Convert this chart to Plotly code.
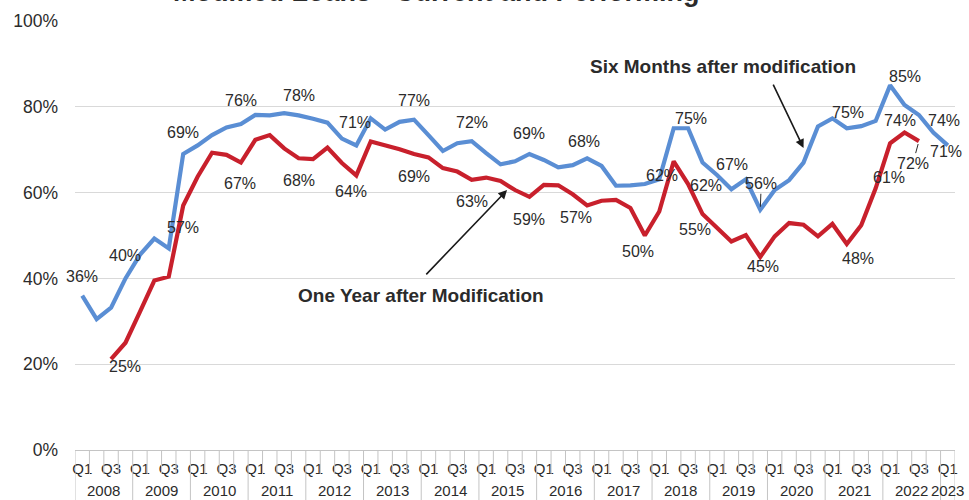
import plotly.graph_objects as go

# ---- data -------------------------------------------------------------
quarter_year = [y for y in range(2008, 2023) for _ in range(4)] + [2023]
quarter_name = ["Q1", "Q2", "Q3", "Q4"] * 15 + ["Q1"]
years = list(range(2008, 2024))

# share of modified loans current and performing, six months after modification
six_months = [
    36, 30.5, 33.2, 40, 45.5, 49.3, 47.0, 69,
    71.0, 73.4, 75.2, 76, 78.1, 78.0, 78.5, 78,
    77.2, 76.3, 72.6, 71, 77.3, 74.7, 76.5, 77,
    73.4, 69.7, 71.5, 72, 69.2, 66.6, 67.3, 69,
    67.6, 65.9, 66.4, 68, 66.2, 61.6, 61.7, 62,
    63.1, 75.0, 75, 67, 64.1, 60.8, 63.1, 56,
    60.6, 62.9, 67.0, 75.4, 77.3, 75, 75.5, 76.7,
    85, 80.4, 78.1, 74, 71,
]

# same, one year after modification
one_year = [
    None, None, 21.2, 25, 32.2, 39.5, 40.4, 57,
    63.7, 69.3, 68.8, 67, 72.3, 73.4, 70.3, 68,
    67.8, 70.5, 66.9, 64, 71.9, 71.1, 70.1, 69,
    68.2, 65.7, 64.9, 63, 63.5, 62.7, 60.6, 59,
    61.8, 61.7, 59.6, 57, 58.1, 58.3, 56.4, 50,
    55.6, 67.3, 62, 55, 51.7, 48.6, 50.1, 45,
    49.8, 52.9, 52.5, 49.8, 52.7, 48, 52.4, 61,
    71.5, 74, 72, None, None,
]

# labelled points: index, pixel offset of the label (dx, dy), leader line
six_label_idx = [0, 3, 7, 11, 15, 19, 23, 27, 31, 35, 39, 42, 43, 47, 53, 56, 59, 60]
six_label_off = [(0, -19), (0, -23), (0, -21), (0, -23), (0, -20), (-1, -23), (0, -19),
                 (0, -19), (0, -20), (-3, -17), (17, -9), (3, -10), (29, 2), (1, -26),
                 (1, -16), (15, -9), (11, -12), (-2, 6)]
six_label_leader = [47]

one_label_idx = [3, 7, 11, 15, 19, 23, 27, 31, 35, 39, 42, 43, 47, 53, 55, 57, 58]
one_label_off = [(0, 24), (0, 22), (-1, 21), (0, 22), (-5, 16), (0, 23), (0, 22), (0, 23),
                 (-11, 12), (-7, 16), (18, 1), (-8, 15), (3, 10), (11, 14), (13, -11),
                 (-5, -12), (-6, 22)]
one_label_leader = [58]

y_ticks = [0, 20, 40, 60, 80, 100]

# ---- style ------------------------------------------------------------
FONT = "Liberation Sans, Arial, sans-serif"
BLUE = "#5A8ED4"
RED = "#C8202C"
TEXT = "#2B2B2B"
GRID = "#D9D9D9"
AXIS = "#C4C4C4"

x = list(range(len(quarter_name)))

fig = go.Figure()
fig.add_trace(go.Scatter(x=x, y=six_months, mode="lines", name="Six Months after modification",
                         line=dict(color=BLUE, width=4.2), connectgaps=False, hoverinfo="skip"))
fig.add_trace(go.Scatter(x=x, y=one_year, mode="lines", name="One Year after Modification",
                         line=dict(color=RED, width=4.2), connectgaps=False, hoverinfo="skip"))

annotations = []


def add_labels(values, idx_list, offsets, leaders):
    for i, (dx, dy) in zip(idx_list, offsets):
        v = values[i]
        a = dict(x=x[i], y=v, xref="x", yref="y", text=f"{v:.0f}%",
                 font=dict(family=FONT, size=16, color=TEXT))
        if i in leaders:
            a.update(showarrow=True, ax=dx, ay=dy, arrowhead=0, arrowwidth=1,
                     arrowcolor=TEXT, standoff=3)
        else:
            a.update(showarrow=False, xshift=dx, yshift=-dy)
        annotations.append(a)


add_labels(six_months, six_label_idx, six_label_off, six_label_leader)
add_labels(one_year, one_label_idx, one_label_off, one_label_leader)

# series call-outs with arrows
annotations.append(dict(x=44.4, y=89.3, xref="x", yref="y", text="<b>Six Months after modification</b>",
                        showarrow=False, font=dict(family=FONT, size=19, color=TEXT)))
annotations.append(dict(x=50.0, y=70.4, ax=47.85, ay=85.5, xref="x", yref="y", axref="x", ayref="y",
                        text="", showarrow=True, arrowhead=2, arrowsize=1.1, arrowwidth=1.6,
                        arrowcolor="#1A1A1A"))
annotations.append(dict(x=23.46, y=35.9, xref="x", yref="y", text="<b>One Year after Modification</b>",
                        showarrow=False, font=dict(family=FONT, size=19, color=TEXT)))
annotations.append(dict(x=29.45, y=60.6, ax=23.75, ay=40.6, xref="x", yref="y", axref="x", ayref="y",
                        text="", showarrow=True, arrowhead=2, arrowsize=1.1, arrowwidth=1.6,
                        arrowcolor="#1A1A1A"))

# title, running off the top edge of the page
annotations.append(dict(x=0.411, y=1, xref="paper", yref="paper", yanchor="bottom", yshift=12,
                        text="<b>Modified Loans - Current and Performing</b>", showarrow=False,
                        font=dict(family=FONT, size=27, color=TEXT)))

# year labels under the quarter labels
for yr in years:
    pos = [x[i] for i in range(len(x)) if quarter_year[i] == yr]
    annotations.append(dict(x=sum(pos) / len(pos), y=0, xref="x", yref="paper",
                            yanchor="middle", yshift=-40,
                            text=str(yr), showarrow=False,
                            font=dict(family=FONT, size=15, color=TEXT)))

# category boundary lines: short between quarters, long between years
shapes = []
for b in range(len(x) + 1):
    long_line = b == 0 or b == len(x) or quarter_name[b] == "Q1"
    shapes.append(dict(type="line", xref="x", yref="paper", ysizemode="pixel", yanchor=0,
                       x0=b - 0.5, x1=b - 0.5, y0=0, y1=-50 if long_line else -24,
                       line=dict(color=AXIS, width=1)))

q_tick_vals = [x[i] for i in range(len(x)) if quarter_name[i] in ("Q1", "Q3")]
q_tick_text = [quarter_name[i] for i in q_tick_vals]

fig.update_layout(
    width=969, height=500,
    margin=dict(l=75, r=11, t=21, b=50),
    paper_bgcolor="white", plot_bgcolor="white",
    showlegend=False,
    font=dict(family=FONT, color=TEXT),
    annotations=annotations,
    shapes=shapes,
    xaxis=dict(range=[-0.5, len(x) - 0.5], tickmode="array", tickvals=q_tick_vals,
               ticktext=q_tick_text, ticks="", showgrid=False, zeroline=False,
               showline=True, linecolor=AXIS, linewidth=1, ticklabelstandoff=5,
               tickfont=dict(family=FONT, size=15, color=TEXT), fixedrange=True),
    yaxis=dict(range=[0, 100], tickmode="array", tickvals=y_ticks,
               ticktext=[f"{v}%" for v in y_ticks],
               showgrid=True, gridcolor=GRID, gridwidth=1, zeroline=False, ticks="",
               ticklabelstandoff=16, tickfont=dict(family=FONT, size=17.5, color=TEXT),
               fixedrange=True),
)

fig.write_html("out.html")
